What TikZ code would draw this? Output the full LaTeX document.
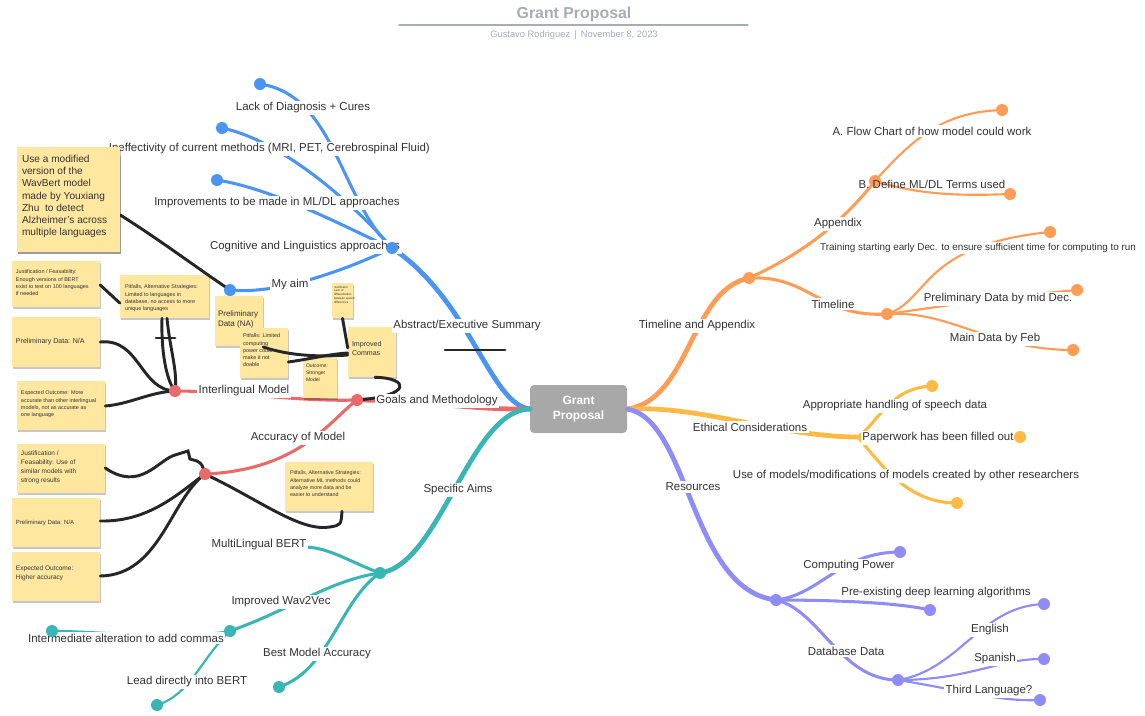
\documentclass[tikz,border=0pt]{standalone}
\usepackage{fontspec}
\setmainfont{Liberation Sans}
\usetikzlibrary{shadows,fit}
\definecolor{cB}{HTML}{4A94F2}
\definecolor{cO}{HTML}{FF9D57}
\definecolor{cY}{HTML}{FFBA45}
\definecolor{cP}{HTML}{8E8CF7}
\definecolor{cR}{HTML}{E86A6A}
\definecolor{cT}{HTML}{3AB5B5}
\definecolor{sticky}{HTML}{FFE7A0}
\definecolor{txt}{HTML}{333333}
\definecolor{ttl}{HTML}{A7ACB5}
\definecolor{blk}{HTML}{262626}
\definecolor{gpbox}{HTML}{A8A8A8}
\begin{document}
\begin{tikzpicture}[x=0.75pt,y=-0.75pt, line cap=round,
 main/.style={line width=3.6pt},
 sub/.style={line width=2.3pt},
 leaf/.style={line width=1.6pt},
 dot/.style={circle, inner sep=0pt, minimum size=9pt},
 lbl/.style={fill=white, inner sep=1.2pt, text=txt, font=\fontsize{8.6}{10}\selectfont},
 note/.style={fill=sticky, inner sep=0pt, drop shadow={shadow xshift=0.6pt, shadow yshift=-1.2pt, opacity=0.22, fill=black}},
 ntxt/.style={inner sep=0pt, text=txt, align=left},
 conn/.style={draw=blk, line width=2.2pt},
]
\useasboundingbox (0,0) rectangle (1145,715);

% ---------- title ----------
\node[font=\bfseries\fontsize{11.9}{14}\selectfont, text=ttl] (title) at (574,14) {Grant Proposal};
\coordinate (tl1) at (399,25);
\coordinate (tl2) at (748,25);
\draw[ttl, line width=0.9pt] (tl1) -- (tl2);
\node[font=\fontsize{7}{8}\selectfont, text=ttl] (subt) at (574,35) {Gustavo Rodriguez \,|\, November 8, 2023};

% ---------- center ----------
\node[fill=gpbox, rounded corners=3pt, minimum width=72.75pt, minimum height=36pt, text=white, align=center, font=\bfseries\fontsize{9}{11}\selectfont] (gp) at (578.5,409) {Grant\\Proposal};

% ---------- dots / coordinates ----------
\coordinate (b1) at (260,84);
\coordinate (b2) at (222,128);
\coordinate (b3) at (217,180);
\coordinate (b4) at (215,247);
\coordinate (bh) at (392,248);
\coordinate (b5) at (230,290);
\coordinate (oh) at (749,278);
\coordinate (oa) at (875,181);
\coordinate (oa1) at (1002,110);
\coordinate (oa2) at (1010,194);
\coordinate (ot) at (887,314);
\coordinate (ot1) at (1050,232);
\coordinate (ot2) at (1077,290);
\coordinate (ot3) at (1073,350);
\coordinate (yh) at (858,437);
\coordinate (y1) at (932,386);
\coordinate (y2) at (1020,437);
\coordinate (y3) at (957,503);
\coordinate (ph) at (776,600);
\coordinate (p1) at (900,552);
\coordinate (p2) at (930,610);
\coordinate (pd) at (898,680);
\coordinate (p4) at (1044,604);
\coordinate (p5) at (1044,659);
\coordinate (p6) at (1040,700);
\coordinate (rh) at (357,400);
\coordinate (r1) at (175,391);
\coordinate (r2) at (205,474);
\coordinate (th) at (380,573);
\coordinate (t1) at (306,547);
\coordinate (t2) at (230,631);
\coordinate (t3) at (279,687);
\coordinate (t4) at (52,631);
\coordinate (t5) at (157,705);

% ---------- colored branches ----------
% blue
\draw[cB, main] (gp.west) .. controls (490,404) and (470,300) .. (bh);
\draw[cB, sub] (bh) .. controls (340,200) and (335,95) .. (b1);
\draw[cB, sub] (bh) .. controls (350,200) and (280,140) .. (b2);
\draw[cB, sub] (bh) .. controls (360,235) and (280,190) .. (b3);
\draw[cB, sub] (bh) .. controls (330,250) and (260,247) .. (b4);
\draw[cB, sub] (bh) .. controls (350,268) and (280,295) .. (b5);
% orange
\draw[cO, main] (gp.east) .. controls (690,400) and (690,290) .. (oh);
\draw[cO, sub] (oh) .. controls (800,255) and (840,225) .. (oa);
\draw[cO, leaf] (oa) .. controls (920,130) and (950,112) .. (oa1);
\draw[cO, leaf] (oa) .. controls (920,195) and (960,196) .. (oa2);
\draw[cO, sub] (oh) .. controls (810,275) and (820,318) .. (ot);
\draw[cO, leaf] (ot) .. controls (930,300) and (920,245) .. (ot1);
\draw[cO, leaf] (ot) .. controls (950,305) and (1020,295) .. (ot2);
\draw[cO, leaf] (ot) .. controls (950,310) and (990,350) .. (ot3);
% yellow
\draw[cY, main] (gp.east) .. controls (700,405) and (780,437) .. (yh);
\draw[cY, sub] (yh) .. controls (880,420) and (890,388) .. (y1);
\draw[cY, sub] (yh) -- (y2);
\draw[cY, sub] (yh) .. controls (885,470) and (910,503) .. (y3);
% purple
\draw[cP, main] (gp.east) .. controls (690,420) and (690,590) .. (ph);
\draw[cP, sub] (ph) .. controls (820,595) and (840,552) .. (p1);
\draw[cP, sub] (ph) .. controls (840,600) and (900,603) .. (p2);
\draw[cP, sub] (ph) .. controls (820,610) and (840,680) .. (pd);
\draw[cP, leaf] (pd) .. controls (960,670) and (980,606) .. (p4);
\draw[cP, leaf] (pd) .. controls (970,680) and (1000,658) .. (p5);
\draw[cP, leaf] (pd) .. controls (960,690) and (1000,702) .. (p6);
% red
\draw[cR, main] (gp.west) .. controls (470,410) and (420,400) .. (rh);
\draw[cR, sub] (rh) .. controls (300,402) and (230,391) .. (r1);
\draw[cR, sub] (rh) .. controls (330,420) and (300,470) .. (r2);
% teal
\draw[cT, main] (gp.west) .. controls (470,410) and (440,565) .. (th);
\draw[cT, sub] (th) .. controls (350,562) and (330,548) .. (t1);
\draw[cT, sub] (th) .. controls (330,580) and (290,610) .. (t2);
\draw[cT, sub] (th) .. controls (340,600) and (330,670) .. (t3);
\draw[cT, leaf] (t2) .. controls (180,640) and (80,630) .. (t4);
\draw[cT, leaf] (t2) .. controls (200,660) and (190,695) .. (t5);

% ---------- notes (frames) ----------
\node[note, fit={(17,147) (120,252)}] (n1) {};
\node[note, fit={(12,261) (100,307)}] (n2) {};
\node[note, fit={(120,275) (209,318)}] (n3) {};
\node[note, fit={(12,317) (100,367)}] (n4) {};
\node[note, fit={(17,381) (105,430)}] (n5) {};
\node[note, fit={(215,296) (263,346)}] (n6) {};
\node[note, fit={(240,328) (288,378)}] (n7) {};
\node[note, fit={(332,283) (353,318)}] (n8) {};
\node[note, fit={(348,327) (396,377)}] (n9) {};
\node[note, fit={(303,358) (337,398)}] (n10) {};
\node[note, fit={(17,444) (105,493)}] (n11) {};
\node[note, fit={(12,498) (100,547)}] (n12) {};
\node[note, fit={(12,552) (100,601)}] (n13) {};
\node[note, fit={(285,462) (373,511)}] (n14) {};

% ---------- black connectors ----------
\draw[conn] (n1.east |- 0,215) .. controls (160,240) and (200,270) .. (b5);
\draw[conn] (n2.east |- 0,285) -- (n3.west |- 0,303);
\draw[conn] (n3.south -| 162,0) .. controls (161,350) and (166,380) .. (r1);
\draw[conn] (n3.south -| 167,0) .. controls (170,350) and (178,372) .. (r1);
\coordinate (cb1) at (156,338); \coordinate (cb2) at (175,338);
\draw[conn] (cb1) -- (cb2);
\draw[conn] (n4.east |- 0,342) .. controls (140,338) and (140,390) .. (r1);
\draw[conn] (n5.east |- 0,406) .. controls (130,404) and (150,392) .. (r1);
\draw[conn] (n6.east |- 0,347) .. controls (290,356) and (320,357) .. (n9.west |- 0,355);
\draw[conn] (n7.east |- 0,362) .. controls (310,359) and (330,354) .. (n9.west |- 0,353);
\draw[conn] (n8.south) -- (n9.west |- 0,348);
\draw[conn] (n9.south -| 375,0) .. controls (410,378) and (412,396) .. (rh);
\draw[conn] (n11.east |- 0,468) .. controls (140,492) and (158,460) .. (175,455) -- (188,451) -- (190,459) -- (197,461) .. controls (202,464) .. (r2);
\draw[conn] (n12.east |- 0,521) .. controls (150,522) and (180,492) .. (r2);
\draw[conn] (n13.east |- 0,576) .. controls (160,575) and (170,500) .. (r2);
\draw[conn] (r2) .. controls (260,500) and (300,532) .. (330,527) .. controls (341,525) .. (n14.south -| 342,0);
\coordinate (bar1) at (445,350); \coordinate (bar2) at (505,350);
\draw[conn] (bar1) -- (bar2);

% ---------- dot under label ----------
\fill[cO] (oa) circle (4.5pt);

% ---------- labels ----------
\node[lbl] (lb1) at (303,108) {Lack of Diagnosis + Cures};
\node[lbl, anchor=west] (lb2) at (107,149) {Ineffectivity of current methods (MRI, PET, Cerebrospinal Fluid)};
\node[lbl] (lb3) at (277,203) {Improvements to be made in ML/DL approaches};
\node[lbl] (lb4) at (305,247) {Cognitive and Linguistics approaches};
\node[lbl] (lb5) at (290,285) {My aim};
\node[lbl] (lbm) at (467,326) {Abstract/Executive Summary};

\node[lbl] (lo) at (697,326) {Timeline and Appendix};
\node[lbl] (loa) at (838,224) {Appendix};
\node[lbl] (loa1) at (932,131) {A. Flow Chart of how model could work};
\node[lbl, fill=none] (loa2) at (932,184) {B. Define ML/DL Terms used};
\node[lbl] (lot) at (833,304) {Timeline};
\node[lbl, font=\fontsize{7.4}{8.5}\selectfont] (lot1) at (978,248) {Training starting early Dec. to ensure sufficient time for computing to run};
\node[lbl] (lot2) at (998,299) {Preliminary Data by mid Dec.};
\node[lbl] (lot3) at (995,339) {Main Data by Feb};

\node[lbl] (ly) at (750,427) {Ethical Considerations};
\node[lbl] (ly1) at (895,406) {Appropriate handling of speech data};
\node[lbl] (ly2) at (938,438) {Paperwork has been filled out};
\node[lbl] (ly3) at (906,476) {Use of models/modifications of models created by other researchers};

\node[lbl] (lp) at (693,487) {Resources};
\node[lbl] (lp1) at (849,566) {Computing Power};
\node[lbl] (lp2) at (936,593) {Pre-existing deep learning algorithms};
\node[lbl] (lpd) at (846,651) {Database Data};
\node[lbl] (lp4) at (990,630) {English};
\node[lbl] (lp5) at (995,659) {Spanish};
\node[lbl] (lp6) at (989,691) {Third Language?};

\node[lbl] (lr) at (437,401) {Goals and Methodology};
\node[lbl] (lr1) at (244,391) {Interlingual Model};
\node[lbl] (lr2) at (298,438) {Accuracy of Model};

\node[lbl] (lt) at (458,490) {Specific Aims};
\node[lbl] (lt1) at (259,545) {MultiLingual BERT};
\node[lbl] (lt2) at (281,602) {Improved Wav2Vec};
\node[lbl] (lt4) at (126,638) {Intermediate alteration to add commas};
\node[lbl] (lt3) at (317,654) {Best Model Accuracy};
\node[lbl] (lt5) at (187,682) {Lead directly into BERT};

% ---------- notes text (note 1 redrawn on top of labels) ----------
\node[note, fit={(17,147) (120,252)}] (n1b) {};
\node[ntxt, anchor=north west, font=\fontsize{7.6}{9.2}\selectfont] (tx1) at ([shift={(5,8)}]n1b.north west) {Use a modified\\version of the\\WavBert model\\made by Youxiang\\Zhu \ to detect\\Alzheimer's across\\multiple languages};
\node[ntxt, anchor=north west, font=\fontsize{4.1}{5.3}\selectfont] (tx2) at ([shift={(4,9)}]n2.north west) {Justification / Feasability:\\Enough versions of BERT\\exist to test on 100 languages\\if needed};
\node[ntxt, anchor=north west, font=\fontsize{4.1}{5.4}\selectfont] (tx3) at ([shift={(5,10)}]n3.north west) {Pitfalls, Alternative Strategies:\\Limited to languages in\\database, no access to more\\unique languages};
\node[ntxt, anchor=west, font=\fontsize{5.3}{6.5}\selectfont] (tx4) at ([shift={(4,0)}]n4.west) {Preliminary Data: N/A};
\node[ntxt, anchor=north west, font=\fontsize{4.1}{5.4}\selectfont] (tx5) at ([shift={(4,10)}]n5.north west) {Expected Outcome: More\\accurate than other interlingual\\models, not as accurate as\\one language};
\node[ntxt, anchor=north west, font=\fontsize{6}{7.5}\selectfont] (tx6) at ([shift={(3,15)}]n6.north west) {Preliminary\\Data (NA)};
\node[ntxt, anchor=north west, font=\fontsize{4.1}{5.4}\selectfont] (tx7) at ([shift={(3,6)}]n7.north west) {Pitfalls: Limited\\computing\\power could\\make it not\\doable};
\node[ntxt, anchor=north west, font=\fontsize{2.2}{2.8}\selectfont] (tx8) at ([shift={(2,3)}]n8.north west) {Justificatio:\\Lack of\\differentiation\\between speech\\differences};
\node[ntxt, anchor=north west, font=\fontsize{5.3}{6.7}\selectfont] (tx9) at ([shift={(4,14)}]n9.north west) {Improved\\Commas};
\node[ntxt, anchor=north west, font=\fontsize{3.8}{5.4}\selectfont] (tx10) at ([shift={(3,6)}]n10.north west) {Outcome:\\Stronger\\Model};
\node[ntxt, anchor=north west, font=\fontsize{4.9}{6.7}\selectfont] (tx11) at ([shift={(4,7)}]n11.north west) {Justification /\\Feasability: Use of\\similar models with\\strong results};
\node[ntxt, anchor=west, font=\fontsize{4.5}{6}\selectfont] (tx12) at ([shift={(4,0)}]n12.west) {Preliminary Data: N/A};
\node[ntxt, anchor=north west, font=\fontsize{4.9}{6.7}\selectfont] (tx13) at ([shift={(4,14)}]n13.north west) {Expected Outcome:\\Higher accuracy};
\node[ntxt, anchor=north west, font=\fontsize{4}{5.4}\selectfont] (tx14) at ([shift={(5,9)}]n14.north west) {Pitfalls, Alternative Strategies:\\Alternative ML methods could\\analyze more data and be\\easier to understand};

% ---------- dots on top ----------
\foreach \p in {b1,b2,b3,bh,b5} \node[dot, fill=cB] at (\p) {};
\foreach \p in {oh,oa1,oa2,ot,ot1,ot2,ot3} \node[dot, fill=cO] at (\p) {};
\foreach \p in {y1,y2,y3} \node[dot, fill=cY] at (\p) {};
\foreach \p in {ph,p1,p2,pd,p4,p5,p6} \node[dot, fill=cP] at (\p) {};
\foreach \p in {rh,r1,r2} \node[dot, fill=cR] at (\p) {};
\foreach \p in {th,t2,t3,t4,t5} \node[dot, fill=cT] at (\p) {};
\end{tikzpicture}
\end{document}
